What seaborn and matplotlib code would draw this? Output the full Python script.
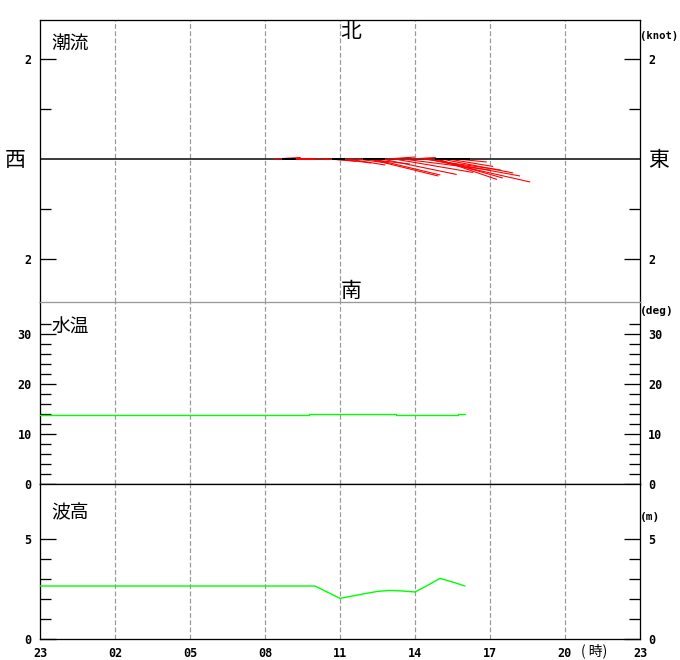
import numpy as np
import pandas as pd
import matplotlib
matplotlib.use('Agg')
import matplotlib.pyplot as plt
import seaborn as sns

# hours are counted from 23:00 of the previous day
hour_ticks = [0, 3, 6, 9, 12, 15, 18, 21, 24]
hour_labels = ['23', '02', '05', '08', '11', '14', '17', '20', '23']

# tidal current sticks (red): start hour, east and north component in knots
red_hour = [9.33, 9.67, 10.0, 10.5, 11.0, 11.33, 11.67, 12.0, 12.33, 12.67, 13.0, 13.17, 13.33,
            13.67, 13.9, 14.17, 14.5, 14.83, 15.33, 15.5, 15.53, 15.83, 15.9, 16.05, 16.33, 16.67]
red_east = [0.55, 0.42, 0.30, 0.25, 0.35, 0.45, 0.50, 0.62, 0.74, 0.62, 0.90, 1.38, 1.34,
            1.50, 0.55, 1.58, 1.75, 0.50, 1.55, 1.85, 2.04, 1.34, 1.19, 1.44, 0.90, 0.60]
red_north = [0.03, 0.01, 0.0, 0.0, -0.01, -0.02, -0.05, -0.08, -0.12, -0.08, -0.10, -0.34, -0.32,
             -0.31, 0.04, -0.27, -0.22, 0.03, -0.22, -0.34, -0.46, -0.38, -0.41, -0.28, -0.15, -0.06]

# observed sticks (black)
black_hour = [9.67, 11.68, 12.92, 15.8]
black_east = [0.28, 0.26, 0.44, 0.70]
black_north = [0.0, 0.0, 0.0, 0.0]

# water temperature (deg)
temp_hour = [0, 10.75, 14.25, 16.7, 17.0]
temp_deg = [13.8, 14.0, 13.8, 14.0, 14.0]

# wave height (m)
wave_hour = [0, 11.0, 12.0, 12.5, 13.0, 13.5, 14.0, 14.5, 15.0, 15.5, 16.0, 16.5, 17.0]
wave_m = [2.65, 2.65, 2.03, 2.15, 2.27, 2.38, 2.43, 2.40, 2.35, 2.68, 3.03, 2.85, 2.65]

sns.set_style('white')
plt.rcParams['font.family'] = ['DejaVu Sans Mono', 'Noto Sans CJK JP']
plt.rcParams['text.color'] = 'black'

W, H = 680, 660
fig = plt.figure(figsize=(W / 100, H / 100), dpi=100)

def box(top, bottom):
    return [40 / W, 1 - bottom / H, 600 / W, (bottom - top) / H]

ax_cur = fig.add_axes(box(20, 302))
ax_tmp = fig.add_axes(box(302, 484))
ax_wav = fig.add_axes(box(484, 639))

px = 0.72
grid_style = dict(color='#999999', lw=px * 1.2, ls=(0, (4, 2)), zorder=0)
lab_font = dict(fontsize=8.5, fontweight='bold', color='black')

for ax in (ax_cur, ax_tmp, ax_wav):
    ax.set_xlim(0, 24)
    ax.set_xticks(hour_ticks)
    for h in hour_ticks[1:-1]:
        ax.axvline(h, **grid_style)
    for s in ax.spines.values():
        s.set_color('black')
        s.set_linewidth(px * 1.3)
    ax.tick_params(axis='x', length=0, labelbottom=False)
    ax.tick_params(axis='y', which='both', direction='in', left=True, right=True,
                   labelleft=True, labelright=True, width=px * 1.3, colors='black')
    ax.tick_params(axis='y', which='major', length=16 * px, pad=6)
    ax.tick_params(axis='y', which='minor', length=11 * px)

# current panel
ax_cur.set_ylim(-2.86, 2.78)
ax_cur.spines['bottom'].set_visible(False)
ax_cur.axhline(0, color='black', lw=px * 1.5, zorder=2)
ax_cur.quiver(red_hour, np.zeros(len(red_hour)), red_east, red_north, color='red',
              angles='uv', scale_units='inches', scale=2, units='dots', width=1.1,
              headwidth=0, headlength=0, headaxislength=0, minlength=0, pivot='tail', zorder=3)
ax_cur.quiver(black_hour, np.zeros(len(black_hour)), black_east, black_north, color='black',
              angles='uv', scale_units='inches', scale=2, units='dots', width=1.1,
              headwidth=0, headlength=0, headaxislength=0, minlength=0, pivot='tail', zorder=4)
ax_cur.set_yticks([-2, 2])
ax_cur.set_yticklabels(['2', '2'], **lab_font)
ax_cur.set_yticks([-1, 1], minor=True)

# temperature panel
temp = pd.DataFrame({'hour': temp_hour, 'deg': temp_deg})
sns.lineplot(data=temp, x='hour', y='deg', ax=ax_tmp, color='#00ff00', lw=px * 1.4,
             drawstyle='steps-post', estimator=None, zorder=3)
ax_tmp.set_ylim(0, 36.4)
ax_tmp.spines['top'].set_color('#999999')
ax_tmp.set_yticks([0, 10, 20, 30])
ax_tmp.set_yticklabels(['0', '10', '20', '30'], **lab_font)
ax_tmp.set_yticks([2, 4, 6, 8, 12, 14, 16, 18, 22, 24, 26, 28, 32], minor=True)

# wave panel
wave = pd.DataFrame({'hour': wave_hour, 'm': wave_m})
sns.lineplot(data=wave, x='hour', y='m', ax=ax_wav, color='#00ff00', lw=px * 1.4,
             estimator=None, zorder=3)
ax_wav.set_ylim(0, 7.75)
ax_wav.set_yticks([0, 5])
ax_wav.set_yticklabels(['0', '5'], **lab_font)
ax_wav.set_yticks([1, 2, 3, 4], minor=True)
ax_wav.tick_params(axis='x', labelbottom=True, pad=6)
ax_wav.set_xticklabels(hour_labels, **lab_font)

for ax in (ax_cur, ax_tmp, ax_wav):
    ax.set_xlabel('')
    ax.set_ylabel('')

def put(x, y, s, **kw):
    fig.text(x / W, 1 - y / H, s, color='black', **kw)

cjk = ['Noto Sans CJK JP', 'DejaVu Sans']
put(51, 43, '潮流', family=cjk, fontsize=13.5, va='center')
put(51, 327, '水温', family=cjk, fontsize=13.5, va='center')
put(51, 513, '波高', family=cjk, fontsize=13.5, va='center')
put(351, 32, '北', family=cjk, fontsize=15, ha='center', va='center')
put(351, 291, '南', family=cjk, fontsize=15, ha='center', va='center')
put(15, 160, '西', family=cjk, fontsize=15, ha='center', va='center')
put(659, 160, '東', family=cjk, fontsize=15, ha='center', va='center')
put(639.5, 36, '(knot)', fontsize=7.6, fontweight='bold', va='center')
put(639.5, 311, '(deg)', fontsize=8, fontweight='bold', va='center')
put(639.5, 517, '(m)', fontsize=8, fontweight='bold', va='center')
put(594, 651, '( 時)', family=cjk, fontsize=10, ha='center', va='center')

fig.savefig('out.png', dpi=100)
